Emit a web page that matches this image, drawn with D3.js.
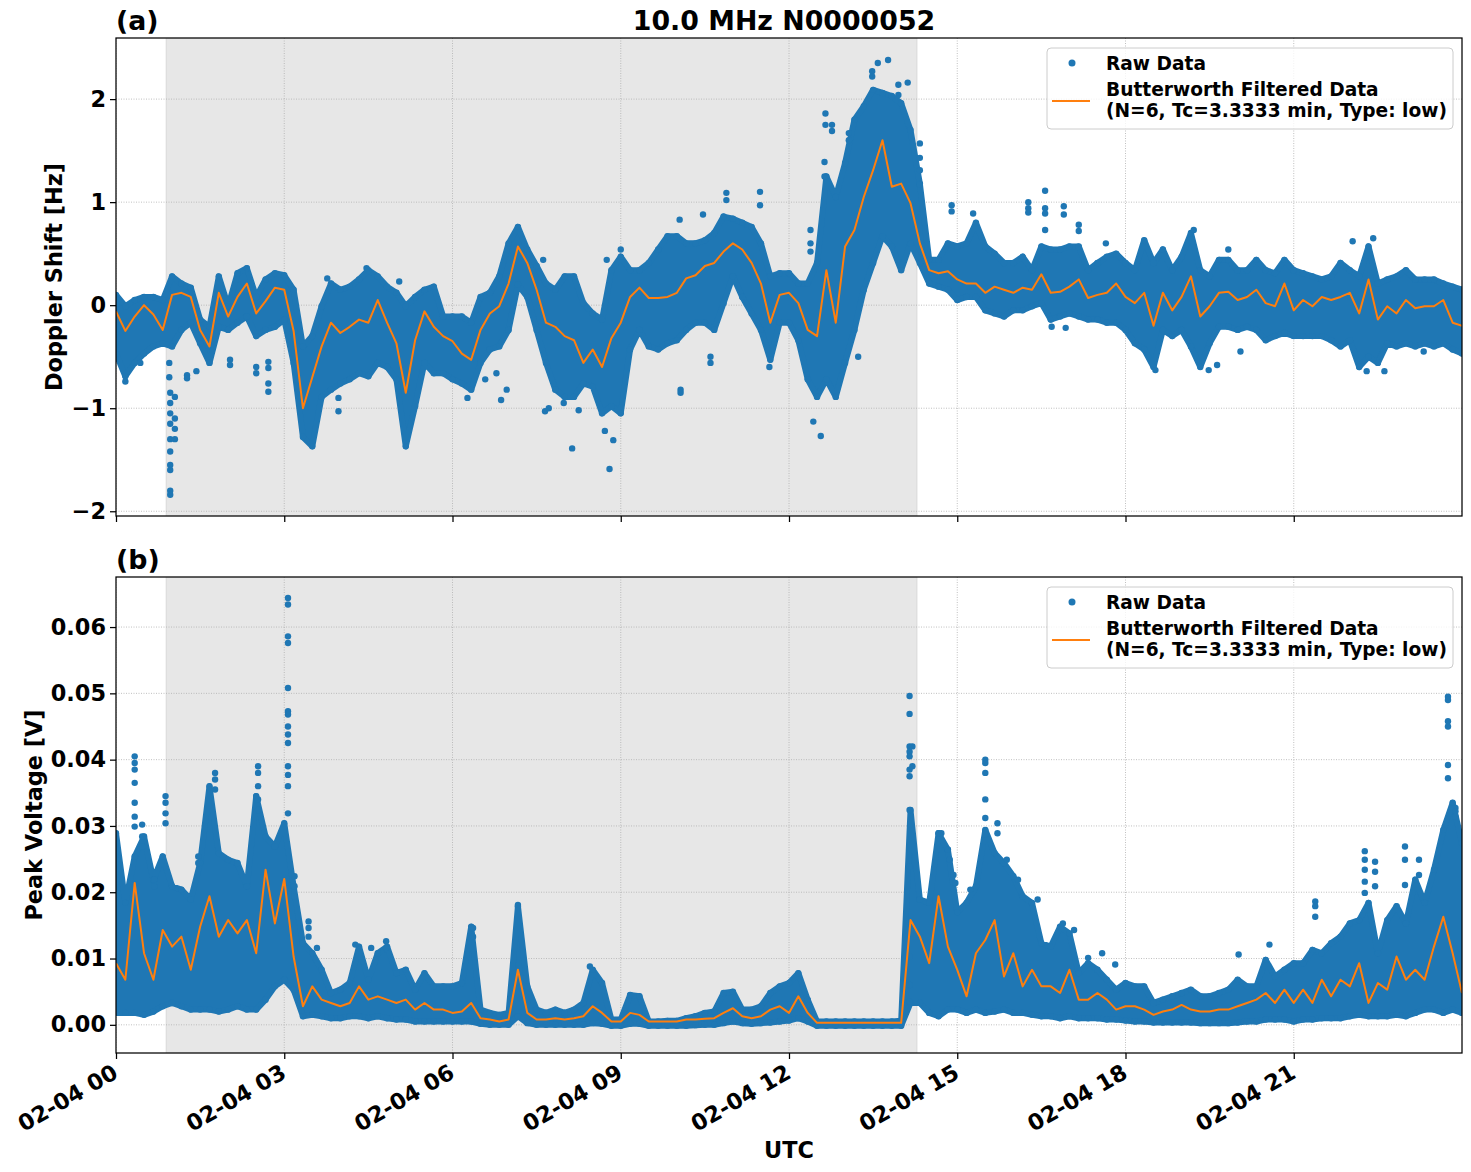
<!DOCTYPE html>
<html>
<head>
<meta charset="utf-8">
<script src="https://cdn.jsdelivr.net/npm/d3@7"></script>
<style>
body { margin: 0; background: #fff; }
text { font-family: "DejaVu Sans", sans-serif; font-weight: bold; fill: #000; }
</style>
</head>
<body>
<svg id="chart" width="1471" height="1172"></svg>
<script>
// ---- data ----
// time grid: minutes after 02-04 00 UTC, every 10 min
var times = d3.range(0, 1441, 10);
// shaded interval (minutes)
var shadeSpan = [53.5, 857];

// (a) Doppler shift [Hz]: filtered line, upper / lower edge of the raw cloud
var dopFilt = [
  -0.06,-0.25,-0.11,0.00,-0.09,-0.24,0.10,0.12,0.08,-0.24,-0.40,0.12,
  -0.11,0.08,0.21,-0.08,0.04,0.17,0.15,-0.25,-1.00,-0.70,-0.40,-0.17,
  -0.27,-0.21,-0.14,-0.17,0.05,-0.17,-0.37,-0.85,-0.34,-0.06,-0.21,-0.30,
  -0.35,-0.47,-0.53,-0.24,-0.08,-0.01,0.21,0.57,0.41,0.15,-0.17,-0.21,
  -0.30,-0.34,-0.56,-0.43,-0.60,-0.32,-0.17,0.08,0.17,0.07,0.07,0.08,
  0.12,0.26,0.29,0.38,0.41,0.52,0.60,0.54,0.41,0.21,-0.17,0.10,
  0.12,0.02,-0.24,-0.30,0.34,-0.17,0.57,0.73,1.05,1.31,1.60,1.15,
  1.18,0.99,0.60,0.34,0.31,0.33,0.25,0.21,0.21,0.12,0.18,0.15,
  0.12,0.17,0.15,0.30,0.12,0.13,0.18,0.25,0.07,0.10,0.12,0.21,
  0.08,0.02,0.12,-0.20,0.12,-0.05,0.08,0.28,-0.11,-0.01,0.12,0.13,
  0.05,0.08,0.15,0.02,-0.01,0.21,-0.05,0.05,-0.01,0.08,0.05,0.08,
  0.12,-0.08,0.25,-0.14,-0.01,-0.08,0.05,-0.03,-0.01,-0.01,0.05,-0.17,
  -0.20
];
var dopHi = [
  0.10,-0.01,0.05,0.08,0.08,0.05,0.28,0.21,0.17,-0.14,-0.21,0.28,
  -0.01,0.31,0.36,0.08,0.25,0.31,0.29,0.15,-0.40,-0.30,-0.01,0.21,
  0.15,0.18,0.25,0.34,0.28,0.18,0.12,-0.01,0.08,0.15,0.18,-0.11,
  -0.11,-0.11,-0.17,0.08,0.12,0.28,0.60,0.76,0.54,0.38,0.21,0.15,
  0.28,0.28,0.02,-0.08,-0.14,0.34,0.47,0.34,0.34,0.41,0.54,0.67,
  0.67,0.60,0.60,0.63,0.70,0.86,0.84,0.80,0.76,0.60,0.28,0.31,
  0.31,0.21,0.21,0.41,1.25,1.05,1.38,1.80,1.93,2.09,2.06,2.03,
  1.96,1.70,1.18,0.44,0.44,0.60,0.57,0.60,0.80,0.57,0.50,0.41,
  0.41,0.47,0.34,0.57,0.54,0.54,0.57,0.57,0.34,0.41,0.47,0.50,
  0.41,0.34,0.63,0.41,0.54,0.34,0.47,0.70,0.34,0.28,0.44,0.44,
  0.34,0.34,0.44,0.34,0.31,0.44,0.34,0.31,0.28,0.25,0.28,0.41,
  0.34,0.28,0.57,0.21,0.25,0.28,0.34,0.25,0.25,0.25,0.21,0.18,
  0.15
];
var dopLo = [
  -0.47,-0.69,-0.56,-0.47,-0.40,-0.37,-0.40,-0.24,-0.17,-0.37,-0.56,-0.21,
  -0.24,-0.17,-0.11,-0.30,-0.24,-0.21,-0.14,-0.56,-1.28,-1.37,-0.89,-0.82,
  -0.76,-0.72,-0.66,-0.69,-0.56,-0.60,-0.72,-1.37,-0.98,-0.56,-0.66,-0.66,
  -0.72,-0.76,-0.82,-0.56,-0.43,-0.40,-0.24,0.20,0.08,-0.24,-0.56,-0.82,
  -0.89,-0.89,-0.76,-0.79,-1.05,-0.98,-1.05,-0.43,-0.24,-0.40,-0.43,-0.37,
  -0.34,-0.24,-0.17,-0.17,-0.24,0.02,0.28,0.08,-0.08,-0.24,-0.53,-0.17,
  -0.17,-0.34,-0.72,-0.89,-0.72,-0.89,-0.56,-0.24,0.15,0.41,0.67,0.57,
  0.34,0.60,0.41,0.21,0.18,0.15,0.05,0.08,0.08,-0.05,-0.08,-0.11,
  -0.05,-0.05,-0.01,0.02,-0.14,-0.11,-0.08,-0.11,-0.14,-0.14,-0.17,-0.17,
  -0.24,-0.37,-0.43,-0.60,-0.24,-0.30,-0.24,-0.40,-0.60,-0.37,-0.21,-0.21,
  -0.24,-0.21,-0.24,-0.34,-0.30,-0.27,-0.30,-0.30,-0.30,-0.30,-0.34,-0.40,
  -0.34,-0.60,-0.50,-0.56,-0.37,-0.40,-0.37,-0.40,-0.37,-0.40,-0.37,-0.43,
  -0.47
];
// isolated raw points [minute, Hz]
var dopOutliers = [
  [10,-0.74],[26,-0.56],[57,-0.56],[57,-0.70],[58,-0.85],[58,-0.95],[58,-1.05],[58,-1.15],
  [58,-1.30],[58,-1.42],[58,-1.55],[58,-1.60],[58,-1.80],[58,-1.84],[63,-0.89],[63,-1.10],
  [63,-1.20],[63,-1.30],[76,-0.68],[76,-0.71],[86,-0.64],[122,-0.53],[122,-0.58],[150,-0.60],
  [150,-0.66],[163,-0.55],[163,-0.61],[163,-0.76],[163,-0.84],[226,0.26],[238,-0.90],[238,-1.03],
  [268,0.36],[303,0.23],[376,-0.90],[395,-0.72],[407,-0.66],[412,-0.92],[418,-0.82],[457,0.44],
  [459,-1.03],[463,-1.00],[479,-0.95],[488,-1.39],[495,-1.02],[523,-1.22],[528,-1.59],[532,-1.31],
  [525,0.44],[540,0.54],[603,0.83],[604,-0.82],[604,-0.85],[628,0.88],[636,-0.50],[636,-0.56],
  [653,1.09],[653,1.02],[689,1.10],[689,0.97],[699,-0.60],[743,0.73],[743,0.60],[743,0.52],
  [746,-1.13],[754,-1.27],[759,1.86],[759,1.75],[758,1.39],[758,1.25],[766,1.75],[766,1.69],
  [784,1.67],[784,1.60],[794,-0.50],[809,2.27],[809,2.22],[815,2.35],[826,2.38],[837,2.14],
  [837,2.04],[847,2.16],[860,1.57],[860,1.43],[860,1.31],[860,1.17],[894,0.97],[894,0.91],
  [917,0.89],[976,1.00],[976,0.94],[976,0.90],[994,1.11],[994,0.94],[994,0.89],[994,0.73],
  [1001,-0.21],[1014,0.96],[1014,0.88],[1016,-0.22],[1030,0.78],[1030,0.72],[1059,0.60],[1112,-0.63],
  [1153,0.73],[1169,-0.63],[1178,-0.58],[1190,0.54],[1203,-0.45],[1323,0.62],[1345,0.65],[1338,-0.64],
  [1357,-0.64],[1399,-0.45]
];

// (b) Peak voltage, in mV: filtered line, upper / lower edge of the raw cloud
var peakFilt_mV = [
  9.3,6.8,21.4,10.8,6.8,14.3,11.8,13.3,8.3,14.8,19.4,13.3,
  15.8,13.8,15.8,10.8,23.4,15.3,22.0,10.3,2.8,5.8,3.8,3.3,
  2.8,3.3,5.8,3.8,4.3,3.8,3.3,3.8,2.3,3.3,2.3,2.3,
  1.8,2.0,3.3,1.0,0.8,0.5,0.8,8.3,1.8,0.8,0.8,1.0,
  0.8,1.0,1.3,2.8,1.8,0.5,0.5,1.8,1.5,0.5,0.5,0.5,
  0.5,0.8,0.8,0.9,1.0,1.8,2.5,1.3,1.0,1.3,2.3,2.8,
  1.8,4.3,1.8,0.3,0.3,0.3,0.3,0.3,0.3,0.3,0.3,0.3,
  0.3,15.8,13.3,9.3,19.4,11.8,8.3,4.3,10.8,12.8,15.8,7.3,
  10.8,5.8,8.3,5.8,5.8,4.8,8.3,3.8,3.8,4.8,3.8,2.3,
  2.8,2.8,2.3,1.5,2.0,2.3,3.0,2.3,2.0,2.0,2.3,2.3,
  2.8,3.3,3.8,4.8,3.3,5.3,3.3,5.3,3.3,6.8,4.3,6.8,
  5.8,9.3,3.3,6.3,5.3,10.3,6.8,8.3,6.8,11.8,16.3,10.8,
  4.8
];
var peakHi_mV = [
  28.9,18.4,25.4,28.4,21.9,25.4,20.9,20.4,18.9,24.4,36.0,25.9,
  24.9,24.4,20.9,34.5,28.4,26.9,30.4,20.9,12.3,10.8,8.3,4.8,
  5.3,6.3,11.8,6.8,10.8,11.8,7.8,8.3,5.3,7.8,5.8,5.8,
  5.8,6.3,14.8,2.3,1.8,1.5,1.8,17.9,5.8,2.3,1.8,2.3,
  1.8,2.3,3.3,8.3,6.3,0.8,0.8,4.5,4.3,0.5,0.5,0.6,
  0.6,1.0,1.3,1.8,2.0,4.8,5.0,2.3,2.3,2.8,4.8,5.8,
  6.3,7.8,3.8,0.5,0.5,0.5,0.5,0.5,0.5,0.5,0.5,0.5,
  0.6,32.4,18.9,18.4,28.9,26.4,17.0,18.4,20.9,29.4,25.9,24.4,
  22.4,19.4,18.4,12.3,11.8,14.8,13.8,7.8,9.3,8.3,6.8,5.3,
  6.3,5.8,5.8,3.3,3.8,4.3,4.8,5.3,4.3,4.3,4.8,5.3,
  6.8,5.8,5.8,9.8,7.3,8.3,9.3,9.3,11.3,10.8,12.3,13.3,
  15.3,15.8,18.4,10.8,15.8,17.9,15.3,21.9,18.4,23.4,29.4,33.5,
  27.4
];
var peakLo_mV = [
  1.8,1.8,1.8,1.5,2.0,2.8,3.3,2.8,2.3,2.3,2.3,2.0,
  2.3,2.8,2.3,2.3,3.8,5.8,6.8,5.3,1.3,1.5,1.3,1.0,
  1.0,1.3,1.3,1.0,1.3,1.0,0.8,0.8,0.5,0.5,0.5,0.5,
  0.5,0.5,0.5,0.15,0.0,0.0,0.0,1.3,0.25,0.0,0.0,0.0,
  0.0,0.0,0.0,0.25,0.15,-0.15,-0.15,0.15,0.15,-0.15,-0.15,-0.15,
  -0.15,-0.15,-0.05,0.0,0.0,0.25,0.5,0.25,0.15,0.25,0.35,0.5,
  0.65,1.0,0.5,-0.15,-0.15,-0.15,-0.15,-0.15,-0.15,-0.15,-0.15,-0.15,
  -0.15,3.3,3.3,1.8,1.3,2.3,2.3,1.8,2.3,1.8,2.0,2.3,
  1.8,1.8,1.5,1.3,1.3,1.0,1.3,1.0,1.0,1.0,0.8,0.8,
  0.65,0.5,0.5,0.35,0.35,0.35,0.35,0.35,0.25,0.25,0.25,0.25,
  0.35,0.5,0.5,0.8,0.8,0.8,0.5,0.8,0.8,1.0,1.0,1.0,
  1.3,1.5,1.3,1.3,1.3,1.5,1.3,1.8,2.3,2.3,1.8,2.3,
  1.8
];
// isolated raw points [minute, mV]
var peakOutliers_mV = [
  [20,40.5],[20,39.5],[20,38.5],[20,36.5],[20,33.5],[20,31.4],[20,29.9],[28,30.2],[28,28.4],[28,26.9],
  [41,21.9],[41,20.9],[53,34.5],[53,33.5],[53,31.9],[53,30.4],[88,25.4],[88,24.4],[106,38.0],[106,37.0],
  [106,35.5],[152,39.0],[152,38.0],[152,36.0],[152,34.0],[152,32.4],[184,64.4],[184,63.4],[184,58.6],[184,57.6],
  [184,50.8],[184,47.3],[184,46.8],[184,45.0],[184,43.8],[184,42.5],[184,39.0],[184,37.7],[184,36.0],[184,31.9],
  [191,22.4],[191,20.9],[191,19.4],[206,15.6],[206,14.6],[206,13.3],[215,11.6],[256,12.1],[273,11.6],[289,12.6],
  [289,11.6],[382,14.6],[382,13.3],[430,18.1],[507,8.8],[849,49.6],[849,46.9],[849,42.0],[849,41.2],[849,40.5],
  [849,38.5],[849,37.5],[849,32.4],[849,23.9],[849,10.3],[849,6.0],[849,3.5],[852,42.0],[852,39.0],[880,28.9],
  [890,26.4],[896,22.6],[883,28.9],[892,24.9],[898,21.4],[914,20.4],[930,40.0],[930,39.5],[930,38.0],[930,34.0],
  [930,31.2],[930,28.7],[943,30.4],[943,28.9],[953,24.9],[965,21.9],[986,18.9],[1013,15.3],[1025,14.3],[1040,10.1],
  [1055,10.8],[1069,9.1],[1201,10.6],[1234,12.1],[1283,18.6],[1283,17.9],[1283,16.3],[1336,26.2],[1336,24.9],[1336,23.4],
  [1336,21.6],[1336,19.9],[1347,24.6],[1347,23.1],[1347,20.9],[1379,26.9],[1379,24.9],[1379,21.1],[1394,24.9],[1394,22.6],
  [1425,49.5],[1425,49.0],[1425,45.8],[1425,45.0],[1425,39.2],[1425,37.2],[1433,32.7],[1433,32.2],[1433,31.4]
];

var dopTicks = [-2, -1, 0, 1, 2];
var peakTicks = [0, 0.01, 0.02, 0.03, 0.04, 0.05, 0.06];
var xTickMinutes = [0, 180, 360, 540, 720, 900, 1080, 1260];
var legendLabels = ["Raw Data", "Butterworth Filtered Data", "(N=6, Tc=3.3333 min, Type: low)"];

// ---- drawing ----
var blue = "#1f77b4", orange = "#ff7f0e";
var baseUTC = Date.UTC(2024, 1, 4);
function toDate(m) { return new Date(baseUTC + m * 60000); }

var svg = d3.select("#chart");
var left = 116, right = 1462;
var tickFont = "22.4px";

var x = d3.scaleUtc()
    .domain([toDate(0), toDate(1440)])
    .range([left, right]);

function drawPanel(p) {
  var y = d3.scaleLinear().domain(p.yDomain).range([p.bottom, p.top]);
  var g = svg.append("g");

  g.append("clipPath").attr("id", "clip-" + p.key)
    .append("rect")
    .attr("x", left).attr("y", p.top)
    .attr("width", right - left).attr("height", p.bottom - p.top);

  var plot = g.append("g").attr("clip-path", "url(#clip-" + p.key + ")");

  // shaded span
  plot.append("rect")
    .attr("x", x(toDate(shadeSpan[0])))
    .attr("y", p.top - 2)
    .attr("width", x(toDate(shadeSpan[1])) - x(toDate(shadeSpan[0])))
    .attr("height", p.bottom - p.top + 4)
    .attr("fill", "#808080").attr("fill-opacity", 0.19)
    .attr("stroke", "#808080").attr("stroke-opacity", 0.12).attr("stroke-width", 1.5);

  // grid
  plot.selectAll(".vgrid").data(xTickMinutes).enter().append("line")
    .attr("x1", function(d) { return x(toDate(d)); })
    .attr("x2", function(d) { return x(toDate(d)); })
    .attr("y1", p.top).attr("y2", p.bottom)
    .attr("stroke", "#b0b0b0").attr("stroke-width", 0.8).attr("stroke-dasharray", "1,1.5");
  plot.selectAll(".hgrid").data(p.ticks).enter().append("line")
    .attr("x1", left).attr("x2", right)
    .attr("y1", function(d) { return y(d); })
    .attr("y2", function(d) { return y(d); })
    .attr("stroke", "#b0b0b0").attr("stroke-width", 0.8).attr("stroke-dasharray", "1,1.5");

  var rows = times.map(function(t, i) {
    return { t: t, lo: p.lo[i] * p.k, hi: p.hi[i] * p.k, f: p.filt[i] * p.k };
  });

  // raw data cloud (envelope of the dense dots)
  var cloud = d3.area()
      .x(function(d) { return x(toDate(d.t)); })
      .y0(function(d) { return y(d.lo); })
      .y1(function(d) { return y(d.hi); });
  plot.append("path").datum(rows)
    .attr("d", cloud)
    .attr("fill", blue).attr("stroke", blue)
    .attr("stroke-width", 6).attr("stroke-linejoin", "round");

  var edgePts = [];
  rows.forEach(function(d) { edgePts.push([d.t, d.hi]); edgePts.push([d.t, d.lo]); });
  p.outliers.forEach(function(d) { edgePts.push([d[0], d[1] * p.k]); });
  plot.selectAll(".dot").data(edgePts).enter().append("circle")
    .attr("cx", function(d) { return x(toDate(d[0])); })
    .attr("cy", function(d) { return y(d[1]); })
    .attr("r", 3.2).attr("fill", blue);

  // filtered line
  var line = d3.line()
      .x(function(d) { return x(toDate(d.t)); })
      .y(function(d) { return y(d.f); });
  plot.append("path").datum(rows)
    .attr("d", line)
    .attr("fill", "none").attr("stroke", orange).attr("stroke-width", 2)
    .attr("stroke-linejoin", "round");

  // axes
  var xAxis = d3.axisBottom(x)
      .tickValues(xTickMinutes.map(toDate))
      .tickSize(6).tickPadding(4)
      .tickFormat(d3.utcFormat("%m-%d %H"));
  var gx = g.append("g").attr("transform", "translate(0," + p.bottom + ")").call(xAxis);
  gx.select(".domain").remove();
  gx.selectAll("line").attr("stroke", "#000").attr("stroke-width", 1.25);
  if (p.showX) {
    gx.selectAll("text")
      .attr("x", 0).attr("y", 0).attr("dy", 0)
      .attr("text-anchor", "end")
      .attr("transform", "translate(3,24) rotate(-30)")
      .style("font-size", tickFont).style("font-family", "DejaVu Sans").style("font-weight", "bold");
  } else {
    gx.selectAll("text").remove();
  }

  var yAxis = d3.axisLeft(y).tickValues(p.ticks).tickSize(6).tickPadding(4).tickFormat(p.fmt);
  var gy = g.append("g").attr("transform", "translate(" + left + ",0)").call(yAxis);
  gy.select(".domain").remove();
  gy.selectAll("line").attr("stroke", "#000").attr("stroke-width", 1.25);
  gy.selectAll("text")
    .style("font-size", tickFont).style("font-family", "DejaVu Sans").style("font-weight", "bold");

  // frame
  g.append("rect")
    .attr("x", left).attr("y", p.top)
    .attr("width", right - left).attr("height", p.bottom - p.top)
    .attr("fill", "none").attr("stroke", "#000").attr("stroke-width", 1.25);

  // panel letter and y label
  g.append("text").attr("x", left).attr("y", p.top - 8)
    .style("font-size", "26.8px").text(p.letter);
  g.append("text")
    .attr("transform", "translate(" + p.ylabelX + "," + ((p.top + p.bottom) / 2) + ") rotate(-90)")
    .attr("text-anchor", "middle")
    .style("font-size", tickFont).text(p.ylabel);

  // legend
  var lg = g.append("g").attr("transform", "translate(1047," + (p.top + 10) + ")");
  lg.append("rect").attr("width", 406).attr("height", 81).attr("rx", 4)
    .attr("fill", "#fff").attr("fill-opacity", 0.8)
    .attr("stroke", "#cccccc").attr("stroke-width", 1);
  lg.append("circle").attr("cx", 25).attr("cy", 15).attr("r", 3.5).attr("fill", blue);
  lg.append("line").attr("x1", 5).attr("x2", 43).attr("y1", 53).attr("y2", 53)
    .attr("stroke", orange).attr("stroke-width", 2);
  lg.selectAll(".lt").data(legendLabels).enter().append("text")
    .attr("x", 59)
    .attr("y", function(d, i) { return [21.5, 48, 69][i]; })
    .style("font-size", "18.6px")
    .text(function(d) { return d; });
}

drawPanel({
  key: "a", top: 38, bottom: 516, yDomain: [-2.046, 2.593],
  ticks: dopTicks, fmt: d3.format("d"), k: 1,
  filt: dopFilt, hi: dopHi, lo: dopLo, outliers: dopOutliers,
  letter: "(a)", ylabel: "Doppler Shift [Hz]", ylabelX: 62, showX: false
});

drawPanel({
  key: "b", top: 577, bottom: 1053, yDomain: [-0.00425, 0.06755],
  ticks: peakTicks, fmt: d3.format(".2f"), k: 0.001,
  filt: peakFilt_mV, hi: peakHi_mV, lo: peakLo_mV, outliers: peakOutliers_mV,
  letter: "(b)", ylabel: "Peak Voltage [V]", ylabelX: 42, showX: true
});

svg.append("text").attr("x", 784).attr("y", 30)
  .attr("text-anchor", "middle").style("font-size", "26.8px")
  .text("10.0 MHz N0000052");
svg.append("text").attr("x", (left + right) / 2).attr("y", 1158)
  .attr("text-anchor", "middle").style("font-size", tickFont)
  .text("UTC");
</script>
</body>
</html>
